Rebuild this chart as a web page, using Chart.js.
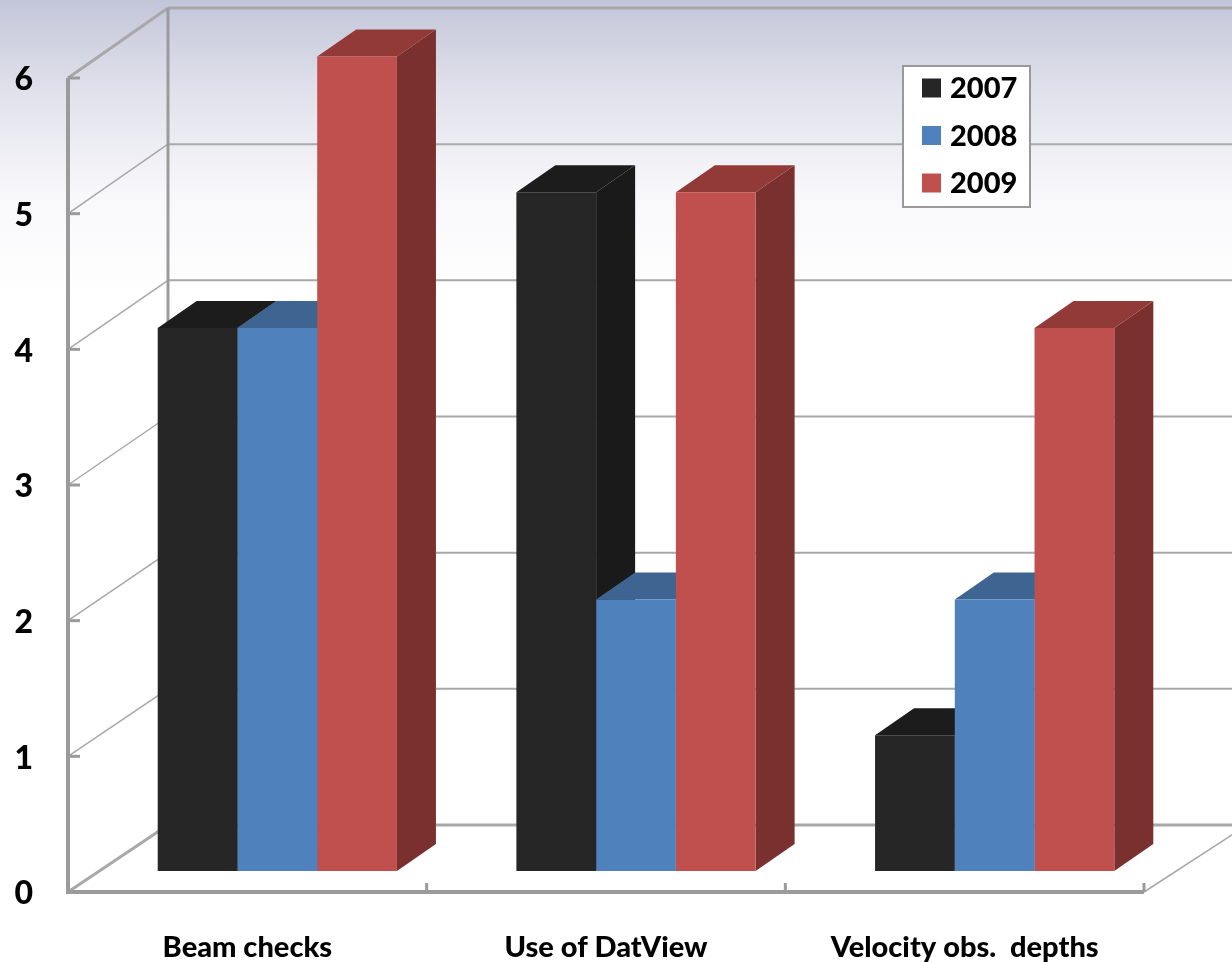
<!DOCTYPE html>
<html>
<head>
<meta charset="utf-8">
<title>Chart</title>
<script src="https://cdn.jsdelivr.net/npm/chart.js@4"></script>
<style>
html, body { margin: 0; padding: 0; background: #fff; }
canvas { display: block; }
</style>
</head>
<body>
<canvas id="myChart" width="1232" height="962"></canvas>
<script>
const categories = ['Beam checks', 'Use of DatView', 'Velocity obs.  depths'];
const values2007 = [4, 5, 1];
const values2008 = [4, 2, 2];
const values2009 = [6, 5, 4];
const yTicks = [0, 1, 2, 3, 4, 5, 6];

// 3D look: every bar is pushed back by this much
const barDepthX = 39;
const barDepthY = -27;
const axisColor = '#9b9b9b';
const gridColor = '#a8a8a8';
const labelFont = 'Lato, "Open Sans", sans-serif';

const seriesColors = [
    { front: '#262626', top: '#1c1c1c', side: '#1a1a1a' },
    { front: '#4f81bd', top: '#3e6591', side: '#38597f' },
    { front: '#c0504d', top: '#923a38', side: '#7a302e' }
];

function strokeLine(ctx, x1, y1, x2, y2, color, width) {
    ctx.strokeStyle = color;
    ctx.lineWidth = width;
    ctx.beginPath();
    ctx.moveTo(x1, y1);
    ctx.lineTo(x2, y2);
    ctx.stroke();
}

function fillShape(ctx, color, points) {
    ctx.fillStyle = color;
    ctx.beginPath();
    points.forEach((p, i) => i ? ctx.lineTo(p[0], p[1]) : ctx.moveTo(p[0], p[1]));
    ctx.closePath();
    ctx.fill();
}

// Background gradient behind everything
const backgroundPlugin = {
    id: 'background',
    beforeDraw(chart) {
        const ctx = chart.ctx;
        const g = ctx.createLinearGradient(0, 0, 0, 300);
        g.addColorStop(0, '#c3c6d9');
        g.addColorStop(0.3, '#e0e1eb');
        g.addColorStop(0.65, '#f8f8fb');
        g.addColorStop(1, '#ffffff');
        ctx.fillStyle = g;
        ctx.fillRect(0, 0, chart.width, chart.height);
    }
};

// Walls, floor, axis lines and the hidden faces of the bars
const wallsPlugin = {
    id: 'walls',
    beforeDatasetsDraw(chart) {
        const ctx = chart.ctx;
        const front = chart.scales.yFront;
        const back = chart.scales.yBack;
        const x = chart.scales.x;
        const frontLeft = 68;
        const backLeft = 168;
        const frontRight = frontLeft + x.width;
        const floorFront = front.getPixelForValue(0);
        const floorBack = back.getPixelForValue(0);

        yTicks.forEach(v => {
            const yf = front.getPixelForValue(v);
            const yb = back.getPixelForValue(v);
            const edge = v === 0 || v === 6;
            strokeLine(ctx, backLeft, yb, chart.width, yb, gridColor, edge ? 3 : 2);
            strokeLine(ctx, frontLeft, yf, backLeft, yb, gridColor, edge ? 3 : 1.5);
            strokeLine(ctx, frontLeft, yf, frontLeft + 12, yf, axisColor, 3);
        });

        strokeLine(ctx, backLeft, back.getPixelForValue(6), backLeft, floorBack, axisColor, 3);
        strokeLine(ctx, frontLeft, front.getPixelForValue(6), frontLeft, floorFront + 2, axisColor, 4);
        strokeLine(ctx, frontLeft, floorFront, frontRight, floorFront, axisColor, 4);
        strokeLine(ctx, frontRight, floorFront, chart.width, floorFront - (chart.width - frontRight) * 0.65, gridColor, 1.5);

        categories.forEach((c, i) => {
            const tx = frontLeft + x.width * (i + 1) / categories.length;
            strokeLine(ctx, tx, floorFront - 9, tx, floorFront, axisColor, 3);
        });

        // Top and side faces go under the fronts, left to right
        categories.forEach((c, i) => {
            seriesColors.forEach((col, s) => {
                const bar = chart.getDatasetMeta(s).data[i];
                const l = bar.x - bar.width / 2;
                const r = bar.x + bar.width / 2;
                fillShape(ctx, col.side, [[r, bar.y], [r + barDepthX, bar.y + barDepthY], [r + barDepthX, bar.base + barDepthY], [r, bar.base]]);
                fillShape(ctx, col.top, [[l, bar.y], [l + barDepthX, bar.y + barDepthY], [r + barDepthX, bar.y + barDepthY], [r, bar.y]]);
            });
        });
    }
};

// Boxed legend sitting on the back wall
const boxLegendPlugin = {
    id: 'boxLegend',
    afterDraw(chart) {
        const ctx = chart.ctx;
        ctx.fillStyle = '#ffffff';
        ctx.fillRect(903, 66, 127, 141);
        ctx.strokeStyle = '#999999';
        ctx.lineWidth = 2;
        ctx.strokeRect(903, 66, 127, 141);
        ctx.font = '900 29px ' + labelFont;
        ctx.textBaseline = 'middle';
        ctx.textAlign = 'left';
        chart.data.datasets.forEach((ds, i) => {
            const y = 88 + i * 47.5;
            ctx.fillStyle = ds.backgroundColor;
            ctx.fillRect(922, y - 9.5, 19, 19);
            ctx.fillStyle = '#000000';
            ctx.fillText(ds.label, 950, y + 1);
        });
    }
};

const ctx = document.getElementById('myChart').getContext('2d');
const myChart = new Chart(ctx, {
    type: 'bar',
    data: {
        labels: categories,
        datasets: [
            { label: '2007', data: values2007, backgroundColor: seriesColors[0].front, yAxisID: 'y' },
            { label: '2008', data: values2008, backgroundColor: seriesColors[1].front, yAxisID: 'y' },
            { label: '2009', data: values2009, backgroundColor: seriesColors[2].front, yAxisID: 'y' }
        ]
    },
    plugins: [backgroundPlugin, wallsPlugin, boxLegendPlugin],
    options: {
        responsive: false,
        animation: false,
        layout: { padding: { top: 8, right: 58, left: 0, bottom: 0 } },
        categoryPercentage: 0.667,
        barPercentage: 1,
        plugins: {
            legend: { display: false },
            tooltip: { enabled: false }
        },
        scales: {
            x: {
                grid: { display: false },
                border: { display: false },
                afterFit: scale => { scale.height = 70; },
                ticks: {
                    color: '#000000',
                    labelOffset: -30,
                    padding: 30,
                    maxRotation: 0,
                    autoSkip: false,
                    font: { family: labelFont, weight: '900', size: 29 }
                }
            },
            // bars stand on this scale, a bit behind the front axis
            y: { display: false, min: -0.1547, max: 6.357 },
            // the axis with the numbers, on the front edge of the box
            yFront: {
                position: 'left',
                min: 0,
                max: 6.516,
                grid: { display: false },
                border: { display: false },
                afterFit: scale => {
                    scale.width = 98;
                    scale.paddingTop = 0;
                    scale.paddingBottom = 0;
                },
                ticks: {
                    stepSize: 1,
                    includeBounds: false,
                    color: '#000000',
                    padding: 57,
                    labelOffset: 2,
                    font: { family: labelFont, weight: '900', size: 32 }
                }
            },
            // back wall gridlines
            yBack: { display: false, min: -0.492, max: 6 }
        }
    }
});
</script>
</body>
</html>
